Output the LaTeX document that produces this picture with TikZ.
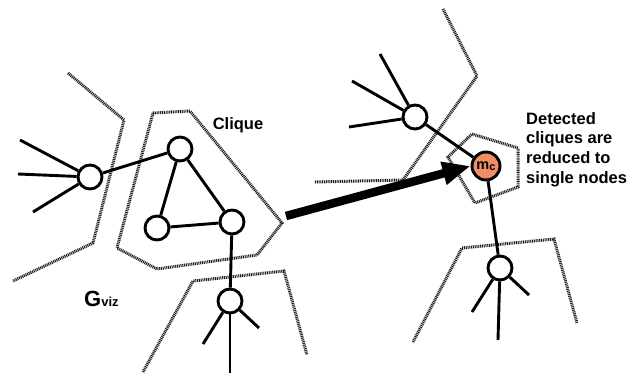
\documentclass[tikz,border=0pt]{standalone}
\usepackage{fontspec}
\setmainfont{Liberation Sans}
\usetikzlibrary{arrows.meta}
\begin{document}
\begin{tikzpicture}[x=1pt,y=-1pt,
  vertex/.style={circle,draw=black,line width=2.9pt,fill=white,minimum size=24pt,inner sep=0pt},
  merged/.style={circle,draw=black,line width=2.9pt,fill={rgb,255:red,240;green,142;blue,102},minimum size=28pt,inner sep=0pt},
  edge/.style={line width=2.9pt,line cap=butt},
  border/.style={line width=3pt,draw={rgb,255:red,30;green,30;blue,30},dash pattern=on 1pt off 0.8pt},
  lbl/.style={font=\bfseries\fontsize{16.5}{19.8}\selectfont,inner sep=0pt}
]
\useasboundingbox (0,0) rectangle (638,374);

% ---- original graph ----
\draw[border] (68,73) -- (124,120) -- (93,243) -- (13,281);
\draw[border] (153,113) -- (190,111) -- (282,223) -- (257,255) -- (157,269) -- (117,248) -- cycle;
\draw[border] (143,372) -- (193,281) -- (284,271) -- (307,355);

\node[vertex] (a) at (90,177) {};
\node[vertex] (b) at (180,149) {};
\node[vertex] (c) at (157,228) {};
\node[vertex] (d) at (232,222) {};
\node[vertex] (e) at (230,301) {};

\coordinate (a1) at (20,140);
\coordinate (a2) at (18,174);
\coordinate (a3) at (33,212);
\coordinate (e1) at (203,344);
\coordinate (e2) at (230,373);
\coordinate (e3) at (259,328);

\draw[edge] (a) -- (a1);
\draw[edge] (a) -- (a2);
\draw[edge] (a) -- (a3);
\draw[edge] (a) -- (b);
\draw[edge] (b) -- (c);
\draw[edge] (b) -- (d);
\draw[edge] (c) -- (d);
\draw[edge] (d) -- (e);
\draw[edge] (e) -- (e1);
\draw[edge] (e) -- (e2);
\draw[edge] (e) -- (e3);

\node[lbl] (clq) at (238,125) {Clique};
\node[inner sep=0pt,anchor=base west] (gviz) at (84,307)
  {\bfseries{\fontsize{22}{22}\selectfont G}{\fontsize{13}{13}\selectfont viz}};

% ---- reduced graph ----
\draw[border] (443,9) -- (477,76) -- (403,180) -- (315,182);
\draw[border] (472,134) -- (518,148) -- (518,187) -- (475,203) -- (448,157) -- cycle;
\draw[border] (413,342) -- (462,248) -- (554,239) -- (577,323);

\node[vertex] (f) at (415,117) {};
\node[merged] (m) at (486,166) {};
\node at (m) {\bfseries\fontsize{14.5}{14.5}\selectfont m\raisebox{-1.5pt}{\fontsize{11}{11}\selectfont c}};
\node[vertex] (g) at (500,268) {};

\coordinate (f1) at (380,54);
\coordinate (f2) at (352,81);
\coordinate (f3) at (349,127);
\coordinate (g1) at (472,312);
\coordinate (g2) at (498,340);
\coordinate (g3) at (529,295);

\draw[edge] (f) -- (f1);
\draw[edge] (f) -- (f2);
\draw[edge] (f) -- (f3);
\draw[edge] (f) -- (m);
\draw[edge] (m) -- (g);
\draw[edge] (g) -- (g1);
\draw[edge] (g) -- (g2);
\draw[edge] (g) -- (g3);

\node[lbl,anchor=north west,align=left] (note) at (526,112)
  {Detected\\cliques are\\reduced to\\single nodes};

% ---- reduction arrow ----
\coordinate (from) at (286,216);
\draw[line width=8.5pt,-{Triangle[length=28pt,width=22pt]}] (from) -- (m.west);
\end{tikzpicture}
\end{document}
